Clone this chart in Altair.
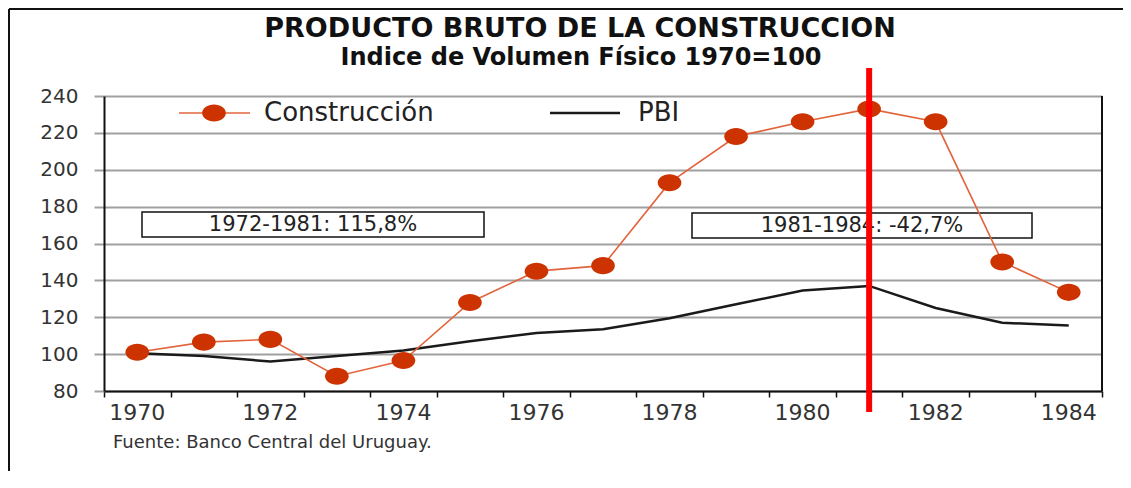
import altair as alt
import pandas as pd

years = [1970, 1971, 1972, 1973, 1974, 1975, 1976, 1977, 1978, 1979, 1980, 1981, 1982, 1983, 1984]
construccion = [101, 106.5, 108, 88, 96.5, 128, 145, 148, 193, 218, 226, 233, 226, 150, 133.5]
pbi = [100.5, 99, 96, 99, 102, 107, 111.5, 113.5, 119.5, 127, 134.5, 137, 125, 117, 115.5]
year_labels = ["1970", "1972", "1974", "1976", "1978", "1980", "1982", "1984"]
y_ticks = [80, 100, 120, 140, 160, 180, 200, 220, 240]
band_edges = [1969.5 + i for i in range(16)]
title_line1 = "PRODUCTO BRUTO DE LA CONSTRUCCION"
title_line2 = "Indice de Volumen Físico 1970=100"
box_text1 = "1972-1981: 115,8%"
box_text2 = "1981-1984: -42,7%"
legend_names = ["Construcción", "PBI"]
source_text = "Fuente: Banco Central del Uruguay."
marker_year = [1981]

FONT = "DejaVu Sans"
CON_LINE = "#E2643C"
CON_MARK = "#CC3300"
W, H = 998, 295
ELLIPSE = "M-1,0 A1,0.72 0 1,1 1,0 A1,0.72 0 1,1 -1,0 Z"

df = pd.DataFrame({"year": years, "construccion": construccion, "pbi": pbi})
one = pd.DataFrame({"k": [0]})

xscale = alt.Scale(domain=[1969.5, 1984.5], nice=False, zero=False)
yscale = alt.Scale(domain=[80, 240], nice=False, zero=False)

x_axis = alt.Axis(values=band_edges, labels=False, ticks=True, tickSize=6,
                  tickColor="#111", tickWidth=1.5, domainColor="#111",
                  domainWidth=2, grid=False, title=None)
y_axis = alt.Axis(values=y_ticks, grid=True, gridColor="#a0a0a0", gridWidth=2,
                  tickColor="#a0a0a0", tickWidth=2, tickSize=10, labelOverlap=False,
                  domainColor="#111", domainWidth=2, labelFont=FONT,
                  labelFontSize=20, labelColor="#333", labelPadding=16,
                  title=None)


def xe(field="year:Q"):
    return alt.X(field, scale=xscale, title=None, axis=x_axis)


def ye(field):
    return alt.Y(field, scale=yscale, title=None, axis=y_axis)


pbi_line = alt.Chart(df).mark_line(color="#1a1a1a", strokeWidth=2.5).encode(
    x=xe(), y=ye("pbi:Q"))

# annotation boxes
box1 = alt.Chart(one).mark_rect(fill="white", stroke="#111", strokeWidth=1.5).encode(
    x=alt.value(38), x2=alt.value(380), y=alt.value(116), y2=alt.value(141))
box1t = alt.Chart(one).mark_text(font=FONT, fontSize=21, color="#222", baseline="middle").encode(
    x=alt.value(209), y=alt.value(129), text=alt.value(box_text1))
box2 = alt.Chart(one).mark_rect(fill="white", stroke="#111", strokeWidth=1.5).encode(
    x=alt.value(588), x2=alt.value(928), y=alt.value(117), y2=alt.value(142))
box2t = alt.Chart(one).mark_text(font=FONT, fontSize=21, color="#222", baseline="middle").encode(
    x=alt.value(758), y=alt.value(130), text=alt.value(box_text2))

con_line = alt.Chart(df).mark_line(color=CON_LINE, strokeWidth=1.6).encode(
    x=xe(), y=ye("construccion:Q"))
con_pts = alt.Chart(df).mark_point(shape=ELLIPSE, size=560, filled=True, color=CON_MARK,
                                   opacity=1).encode(
    x=xe(), y=ye("construccion:Q"))

year_text = alt.Chart(pd.DataFrame({"label": year_labels})).transform_calculate(
    year="toNumber(datum.label)").mark_text(font=FONT, fontSize=22, color="#333",
                                             baseline="middle").encode(
    x=xe(), y=alt.value(317), text="label:N")

right_border = alt.Chart(one).mark_rule(color="#111", strokeWidth=2).encode(
    x=alt.value(W), y=alt.value(0), y2=alt.value(H))

red_line = alt.Chart(pd.DataFrame({"year": marker_year})).mark_rule(
    color="#FF0000", strokeWidth=6).encode(x=xe(), y=alt.value(-28), y2=alt.value(316))

# legend
leg1_line = alt.Chart(one).mark_rule(color=CON_LINE, strokeWidth=1.6).encode(
    x=alt.value(75), x2=alt.value(146), y=alt.value(17))
leg1_pt = alt.Chart(one).mark_point(shape=ELLIPSE, size=560, filled=True, color=CON_MARK,
                                    opacity=1).encode(x=alt.value(110), y=alt.value(17))
leg1_txt = alt.Chart(one).mark_text(font=FONT, fontSize=26, color="#222", align="left",
                                    baseline="middle").encode(
    x=alt.value(160), y=alt.value(17), text=alt.value(legend_names[0]))
leg2_line = alt.Chart(one).mark_rule(color="#1a1a1a", strokeWidth=2.5).encode(
    x=alt.value(446), x2=alt.value(516), y=alt.value(17))
leg2_txt = alt.Chart(one).mark_text(font=FONT, fontSize=26, color="#222", align="left",
                                    baseline="middle").encode(
    x=alt.value(534), y=alt.value(17), text=alt.value(legend_names[1]))

# titles and source
t1 = alt.Chart(one).mark_text(font=FONT, fontSize=27, fontWeight="bold", color="#111",
                              baseline="middle").encode(
    x=alt.value(476), y=alt.value(-67), text=alt.value(title_line1))
t2 = alt.Chart(one).mark_text(font=FONT, fontSize=24, fontWeight="bold", color="#111",
                              baseline="middle").encode(
    x=alt.value(477), y=alt.value(-38), text=alt.value(title_line2))
src = alt.Chart(one).mark_text(font=FONT, fontSize=18, color="#333", align="left",
                               baseline="middle").encode(
    x=alt.value(9), y=alt.value(347), text=alt.value(source_text))

# outer frame (top and left)
frame_top = alt.Chart(one).mark_rule(color="#111", strokeWidth=2).encode(
    x=alt.value(-95), x2=alt.value(W + 21), y=alt.value(-87))
frame_left = alt.Chart(one).mark_rule(color="#111", strokeWidth=2).encode(
    x=alt.value(-95), y=alt.value(-87), y2=alt.value(H + 80))

chart = alt.layer(
    box1, box1t, box2, box2t, pbi_line, con_line, con_pts, year_text,
    right_border, red_line, leg1_line, leg1_pt, leg1_txt, leg2_line, leg2_txt,
    t1, t2, src, frame_top, frame_left
).properties(
    width=W, height=H,
    autosize=alt.AutoSizeParams(type="none"),
    padding={"left": 96, "top": 88, "right": 21, "bottom": 80},
    background="white",
).configure_view(stroke=None)

chart.save("out.html", embed_options={"renderer": "svg", "actions": False})
